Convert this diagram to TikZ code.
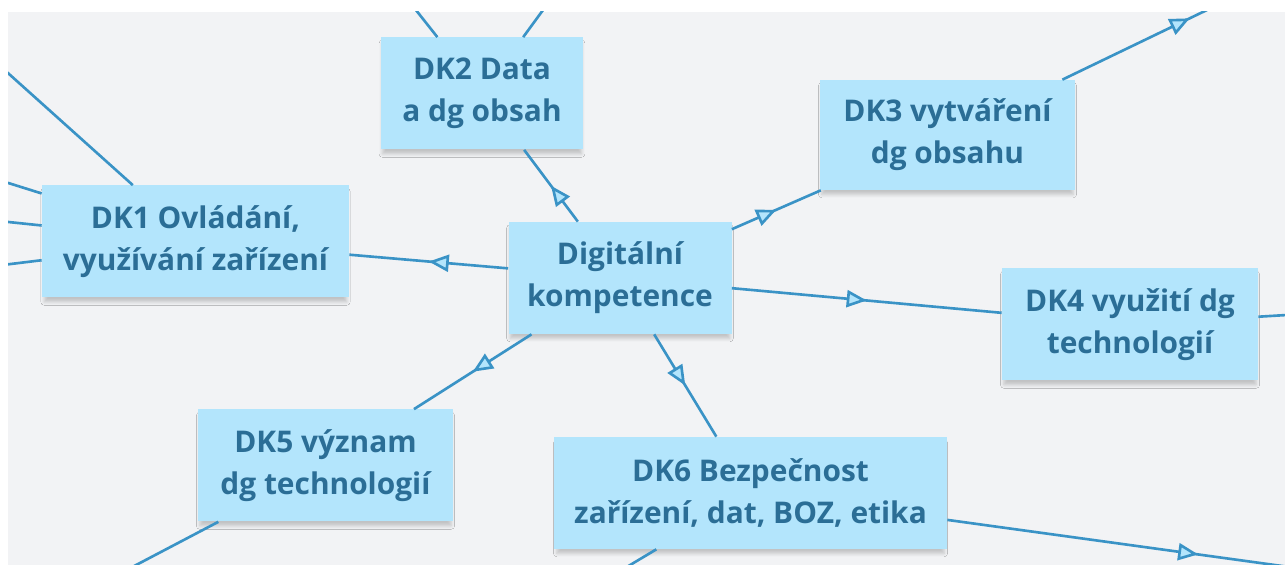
\documentclass[tikz,border=0pt]{standalone}
\usepackage{fontspec}
\setmainfont{Open Sans}
\usetikzlibrary{arrows.meta,decorations.markings,shadows.blur}
\definecolor{boxfill}{HTML}{B3E5FC}
\definecolor{boxtext}{HTML}{2B6E96}
\definecolor{linkblue}{HTML}{3A93C6}
\definecolor{paper}{HTML}{F2F3F5}

\begin{document}
\begin{tikzpicture}[
  kbox/.style={fill=boxfill,text=boxtext,font=\bfseries\fontsize{17}{23.9}\selectfont,
    align=center,minimum height=2.24cm,inner sep=0pt,
    blur shadow={shadow xshift=0pt,shadow yshift=-3pt,shadow blur radius=2pt,
      shadow scale=0.985,shadow opacity=20}},
  link/.style={draw=linkblue,line width=1.5pt},
  midarrow/.style={postaction={decorate,decoration={markings,
    mark=at position 0.5 with {\arrow{Triangle[fill=boxfill,length=0.4cm,width=0.34cm]}}}}}]

% Page.
\fill[white] (0,0) rectangle (25.7,11.3);
\fill[paper] (0.16,0) rectangle (25.7,11.06);
\useasboundingbox (0,0) rectangle (25.7,11.3);

% NODES

% Centre.
\node[kbox,minimum width=4.46cm] (dk) at (12.40,5.74) {Digitální\\kompetence};

% Competences.
\node[kbox,minimum width=6.14cm] (dk1) at (3.91,6.47) {DK1 Ovládání,\\využívání zařízení};
\node[kbox,minimum width=4.04cm] (dk2) at (9.64,9.43) {DK2 Data\\a dg obsah};
\node[kbox,minimum width=5.10cm,minimum height=2.2cm] (dk3) at (18.95,8.60) {DK3 vytváření\\dg obsahu};
\node[kbox,minimum width=5.12cm] (dk4) at (22.60,4.81) {DK4 využití dg\\technologií};
\node[kbox,minimum width=5.10cm] (dk5) at (6.51,1.99) {DK5 význam\\dg technologií};
\node[kbox,minimum width=7.86cm] (dk6) at (15.01,1.44) {DK6 Bezpečnost\\zařízení, dat, BOZ, etika};

% CONNECTIONS

\begin{scope}
\clip (0.16,0) rectangle (25.7,11.06);

% Loose ends outside the page.
\coordinate (out1a) at (-0.8,10.7);
\coordinate (out1b) at (-0.6,7.88);
\coordinate (out1c) at (-0.6,6.94);
\coordinate (out1d) at (-0.6,5.92);
\coordinate (out2a) at (8.08,11.4);
\coordinate (out2b) at (11.08,11.4);
\coordinate (out3) at (26.34,12.16);
\coordinate (out4) at (26.4,5.04);
\coordinate (out5) at (1.2,-0.8);
\coordinate (out6a) at (11.6,-0.6);
\coordinate (out6b) at (28.98,-0.48);

% Centre -> competences.
\draw[link,midarrow] (dk) -- (dk1);
\draw[link,midarrow] (dk) -- (dk2);
\draw[link,midarrow] (dk) -- (dk3);
\draw[link,midarrow] (dk) -- (dk4);
\draw[link,midarrow] (dk) -- (dk5);
\draw[link,midarrow] (dk) -- (dk6);

% Competences -> outside.
\foreach \o in {out1a,out1b,out1c,out1d}
  \draw[link] (dk1) -- (\o);
\draw[link] (dk2) -- (out2a);
\draw[link] (dk2) -- (out2b);
\draw[link,midarrow] (dk3) -- (out3);
\draw[link] (dk4) -- (out4);
\draw[link] (dk5) -- (out5);
\draw[link] (dk6) -- (out6a);
\draw[link,midarrow] (dk6) -- (out6b);
\end{scope}

\end{tikzpicture}
\end{document}
